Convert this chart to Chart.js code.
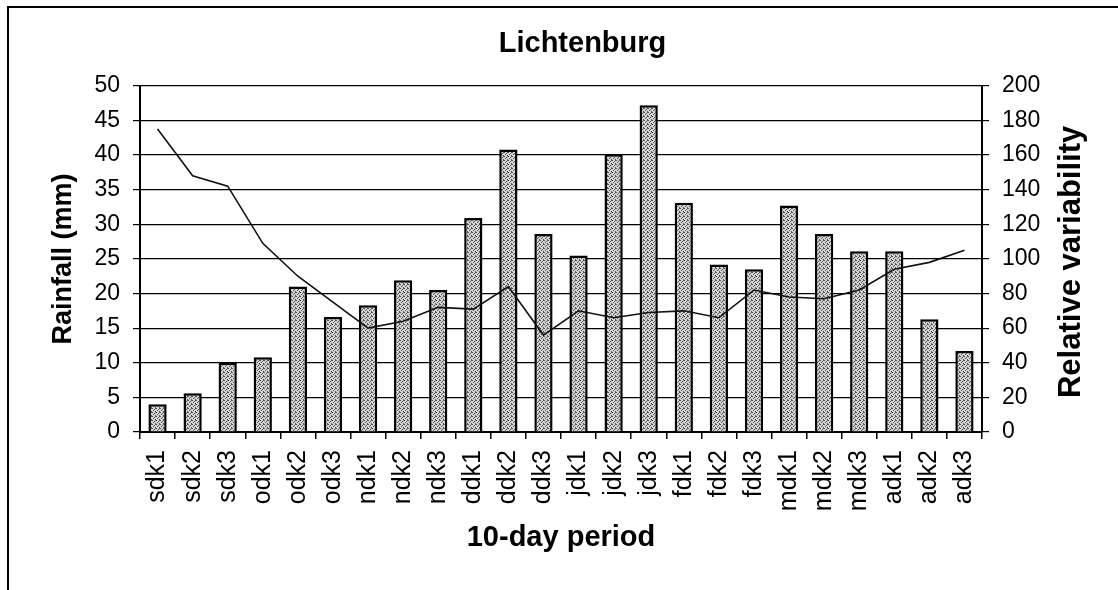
<!DOCTYPE html>
<html>
<head>
<meta charset="utf-8">
<script src="https://cdn.jsdelivr.net/npm/chart.js@4"></script>
<style>
  body { margin: 0; background: #fff; }
  canvas { display: block; }
</style>
</head>
<body>
<canvas id="chart" width="1118" height="590"></canvas>
<script>
// 10-day periods (Sep..Apr)
const periods = ['sdk1','sdk2','sdk3','odk1','odk2','odk3','ndk1','ndk2','ndk3','ddk1','ddk2','ddk3',
                 'jdk1','jdk2','jdk3','fdk1','fdk2','fdk3','mdk1','mdk2','mdk3','adk1','adk2','adk3'];
// rainfall in mm (bars, left axis)
const rainfall = [4, 5.6, 10, 10.8, 21, 16.6, 18.3, 21.9, 20.5, 30.9, 40.8, 28.6,
                  25.5, 40.1, 47.2, 33.1, 24.2, 23.5, 32.7, 28.6, 26.1, 26.1, 16.3, 11.7];
// relative variability in % (line, right axis)
const variability = [175, 148, 142, 109, 90, 75, 60, 64, 72, 71, 84, 56,
                     70, 66, 69, 70, 66, 82, 78, 77, 82, 94, 98, 105];

const FONT = "'Liberation Sans', Arial, sans-serif";

// speckled grey fill like the scanned bars
function stipple() {
    const c = document.createElement('canvas');
    c.width = 4; c.height = 4;
    const g = c.getContext('2d');
    g.fillStyle = '#d4d4d4';
    g.fillRect(0, 0, 4, 4);
    g.fillStyle = '#555';
    [[0,0],[2,1],[1,2],[3,3],[3,0]].forEach(p => g.fillRect(p[0], p[1], 1, 1));
    return g.createPattern(c, 'repeat');
}

const framePlugin = {
    id: 'frame',
    beforeDraw: (chart) => {
        const ctx = chart.ctx;
        ctx.save();
        ctx.fillStyle = '#fff';
        ctx.fillRect(0, 0, chart.width, chart.height);
        ctx.strokeStyle = '#000';
        ctx.lineWidth = 2;
        ctx.beginPath();
        ctx.moveTo(8, chart.height);
        ctx.lineTo(8, 7);
        ctx.lineTo(chart.width, 7);
        ctx.stroke();
        ctx.restore();
    },
    afterDraw: (chart) => {
        // right axis title reads bottom-to-top
        const s = chart.scales.y1;
        const ctx = chart.ctx;
        ctx.save();
        ctx.translate(s.right - 47, (s.top + s.bottom) / 2 + 3);
        ctx.rotate(-Math.PI / 2);
        ctx.font = 'bold 31px ' + FONT;
        ctx.fillStyle = '#000';
        ctx.textAlign = 'center';
        ctx.textBaseline = 'middle';
        ctx.fillText('Relative variability', 0, 0);
        ctx.restore();
    }
};

new Chart(document.getElementById('chart'), {
    data: {
        labels: periods,
        datasets: [
            { type: 'line', label: 'Relative variability', data: variability, yAxisID: 'y1',
              borderColor: '#111', borderWidth: 1.6, pointRadius: 0, tension: 0, order: 0 },
            { type: 'bar', label: 'Rainfall (mm)', data: rainfall, yAxisID: 'y',
              backgroundColor: stipple(), borderColor: '#000', borderWidth: 2.5,
              barPercentage: 0.52, categoryPercentage: 1, order: 1 }
        ]
    },
    options: {
        responsive: false,
        devicePixelRatio: 1,
        animation: false,
        layout: { padding: { left: 47, right: 0, top: 0, bottom: 0 } },
        plugins: {
            legend: { display: false },
            tooltip: { enabled: false },
            title: {
                display: true, text: 'Lichtenburg', color: '#000',
                font: { family: FONT, size: 29, weight: 'bold', lineHeight: 1.2 },
                padding: { top: 27, bottom: 24 }
            }
        },
        scales: {
            x: {
                afterFit: (s) => { s.height = 158; },
                grid: { offset: true, drawOnChartArea: false, tickLength: 7, color: '#000', lineWidth: 1.5 },
                border: { color: '#000', width: 2 },
                ticks: { color: '#000', font: { family: FONT, size: 25 }, minRotation: 90, maxRotation: 90,
                         autoSkip: false, padding: 11 },
                title: { display: true, text: '10-day period', color: '#000',
                         font: { family: FONT, size: 29, weight: 'bold', lineHeight: 1.2 },
                         padding: { top: 0, bottom: 35 } }
            },
            y: {
                position: 'left', min: 0, max: 50,
                afterFit: (s) => { s.width = 93; },
                grid: { color: '#000', lineWidth: 1.2, tickLength: 7 },
                border: { color: '#000', width: 2 },
                ticks: { stepSize: 5, color: '#000', font: { family: FONT, size: 23 }, padding: 13 },
                title: { display: true, text: 'Rainfall (mm)', color: '#000',
                         font: { family: FONT, size: 27, weight: 'bold', lineHeight: 1.2 },
                         padding: { top: 0, bottom: 0 } }
            },
            y1: {
                position: 'right', min: 0, max: 200,
                afterFit: (s) => { s.width = 136; },
                grid: { drawOnChartArea: false, color: '#000', lineWidth: 1.2, tickLength: 7 },
                border: { color: '#000', width: 2 },
                ticks: { stepSize: 20, color: '#000', font: { family: FONT, size: 23 }, padding: 13 }
            }
        }
    },
    plugins: [framePlugin]
});
</script>
</body>
</html>
